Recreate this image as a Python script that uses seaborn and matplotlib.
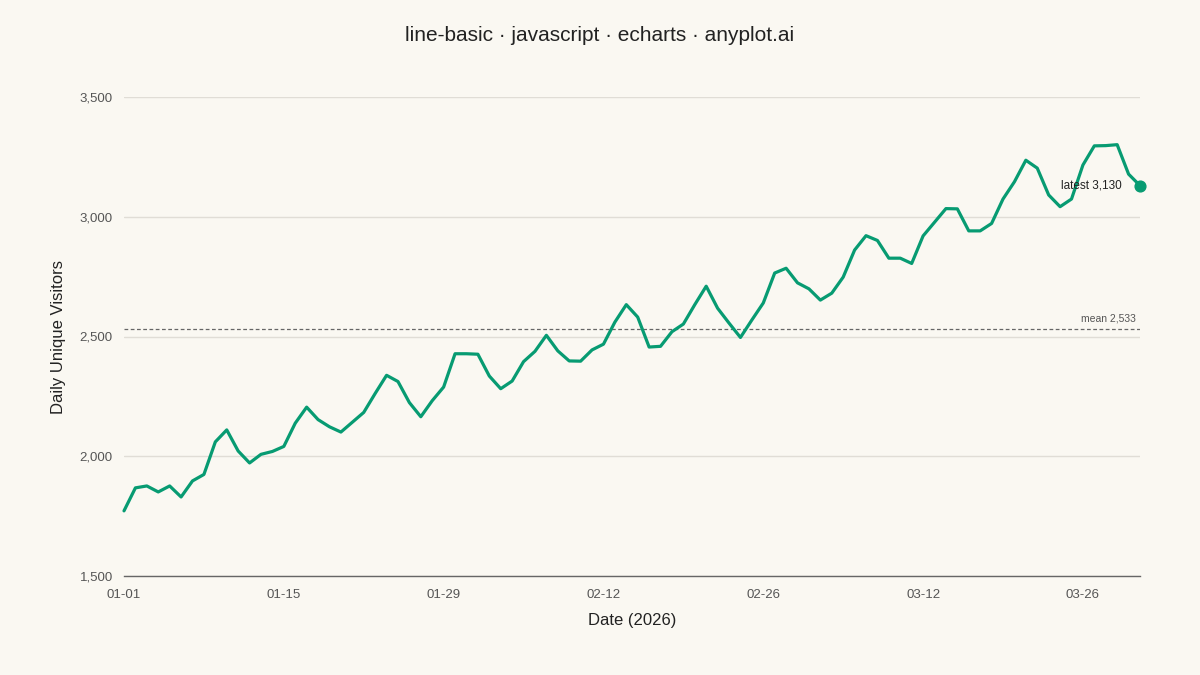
import pandas as pd
import matplotlib.pyplot as plt
import matplotlib.dates as mdates
import seaborn as sns

# daily unique visitors, 2026-01-01 .. 2026-03-31
visitors = [1772, 1868, 1876, 1851, 1876, 1830, 1897, 1924, 2060, 2110,
            2022, 1972, 2008, 2020, 2041, 2138, 2205, 2153, 2123, 2101,
            2142, 2183, 2262, 2338, 2312, 2224, 2165, 2232, 2289, 2428,
            2428, 2426, 2335, 2282, 2314, 2395, 2438, 2505, 2440, 2398,
            2397, 2444, 2468, 2560, 2633, 2581, 2456, 2459, 2520, 2552,
            2633, 2710, 2618, 2556, 2496, 2569, 2640, 2765, 2785, 2724,
            2699, 2652, 2681, 2748, 2861, 2921, 2901, 2827, 2827, 2805,
            2920, 2977, 3034, 3033, 2941, 2941, 2972, 3074, 3146, 3236,
            3203, 3091, 3042, 3074, 3216, 3296, 3297, 3301, 3178, 3130]
dates = pd.date_range('2026-01-01', periods=len(visitors), freq='D')
tick_dates = pd.date_range('2026-01-01', '2026-03-31', freq='14D')
y_ticks = [1500, 2000, 2500, 3000, 3500]

df = pd.DataFrame({'date': dates, 'visitors': visitors})
mean_val = df['visitors'].mean()
last = df.iloc[-1]

bg = '#faf8f2'
green = '#079b72'

sns.set_theme(style='white')
plt.rcParams['font.family'] = ['Liberation Sans', 'DejaVu Sans']

fig = plt.figure(figsize=(12, 6.75), dpi=100, facecolor=bg)
ax = fig.add_axes([124 / 1200, 1 - 576 / 675, 1016 / 1200, 479 / 675])
ax.set_facecolor(bg)

sns.lineplot(data=df, x='date', y='visitors', ax=ax, color=green, linewidth=2.3)
for ln in ax.lines:
    ln.set_clip_on(False)
    ln.set_solid_capstyle('round')
ax.scatter([last['date']], [last['visitors']], s=60, color=green, zorder=5, clip_on=False)

ax.axhline(mean_val, color='#666666', linestyle=(0, (3, 2)), linewidth=0.9, zorder=1)
ax.text(dates[-1] - pd.Timedelta(hours=8), mean_val + 22, f'mean {mean_val:,.0f}',
        ha='right', va='bottom', fontsize=7.5, color='#555555')
ax.text(dates[-1] - pd.Timedelta(hours=38), last['visitors'], f"latest {last['visitors']:,.0f}",
        ha='right', va='center', fontsize=8.5, color='#222222')

ax.set_xlim(dates[0], dates[-1])
ax.set_ylim(y_ticks[0], y_ticks[-1])
ax.set_yticks(y_ticks)
ax.set_yticklabels([f'{v:,}' for v in y_ticks])
ax.set_xticks(tick_dates)
ax.xaxis.set_major_formatter(mdates.DateFormatter('%m-%d'))
ax.grid(axis='y', color='#e0ddd6', linewidth=1)
ax.tick_params(axis='both', length=0, labelsize=9.5, labelcolor='#555555')
ax.tick_params(axis='x', pad=9)
ax.tick_params(axis='y', pad=8)

for s in ['top', 'right', 'left']:
    ax.spines[s].set_visible(False)
ax.spines['bottom'].set_color('#666666')
ax.spines['bottom'].set_linewidth(1)

ax.set_xlabel('Date (2026)', fontsize=12, color='#222222', labelpad=9)
ax.set_ylabel('Daily Unique Visitors', fontsize=12, color='#222222', labelpad=10)
fig.suptitle('line-basic · javascript · echarts · anyplot.ai', fontsize=15, color='#222222', y=0.962)

fig.savefig('out.png', dpi=100, facecolor=bg)
